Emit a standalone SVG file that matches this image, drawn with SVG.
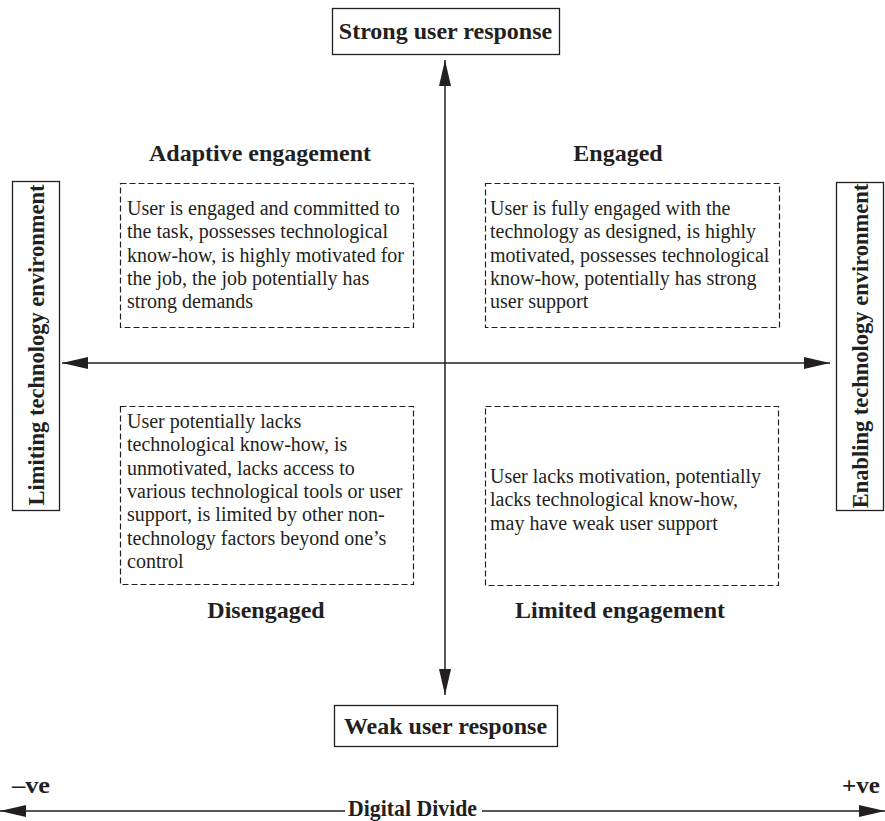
<svg xmlns="http://www.w3.org/2000/svg" width="885" height="821" viewBox="0 0 885 821">
<style>
.box{fill:#fff;stroke:#231f20;stroke-width:1.3}
.dash{fill:none;stroke:#231f20;stroke-width:1.2;stroke-dasharray:6 3}
.h{font-family:"Liberation Serif","Times New Roman",serif;font-weight:bold;font-size:24px;fill:#231f20}
.v{font-size:22.5px}
.t{font-family:"Liberation Serif","Times New Roman",serif;font-size:20px;fill:#231f20}
.ax{stroke:#231f20;stroke-width:1.5;fill:none}
</style>
<defs>
<marker id="ah" viewBox="0 0 26 12" refX="26" refY="6" markerWidth="26" markerHeight="12" markerUnits="userSpaceOnUse" orient="auto-start-reverse">
<path d="M0,0 L26,6 L0,12 Z" fill="#231f20"/>
</marker>
</defs>
<g id="connectors">
<line class="ax" x1="445" y1="60" x2="445" y2="695" marker-start="url(#ah)" marker-end="url(#ah)"/>
<line class="ax" x1="62" y1="363" x2="830" y2="363" marker-start="url(#ah)" marker-end="url(#ah)"/>
<line class="ax" x1="0" y1="811" x2="345" y2="811" marker-start="url(#ah)"/>
<line class="ax" x1="482" y1="811" x2="885" y2="811" marker-end="url(#ah)"/>
</g>
<g id="strong">
<rect class="box" x="332.5" y="8.5" width="227" height="46"/>
<text class="h" x="445.5" y="39" text-anchor="middle">Strong user response</text>
</g>
<g id="weak">
<rect class="box" x="334.5" y="705.5" width="223" height="41"/>
<text class="h" x="445.5" y="734" text-anchor="middle">Weak user response</text>
</g>
<g id="limiting">
<rect class="box" x="12.5" y="181.5" width="47" height="329"/>
<text class="h v" transform="translate(43.5,345) rotate(-90)" text-anchor="middle">Limiting technology environment</text>
</g>
<g id="enabling">
<rect class="box" x="836.5" y="182.5" width="47" height="328"/>
<text class="h v" transform="translate(867.5,346) rotate(-90)" text-anchor="middle">Enabling technology environment</text>
</g>
<g id="adaptive">
<text class="h" x="260" y="161" text-anchor="middle">Adaptive engagement</text>
<rect class="dash" x="120.5" y="183.5" width="293" height="144"/>
<text class="t"><tspan x="127" y="215">User is engaged and committed to</tspan><tspan x="127" y="238.3">the task, possesses technological</tspan><tspan x="127" y="261.6">know-how, is highly motivated for</tspan><tspan x="127" y="284.9">the job, the job potentially has</tspan><tspan x="127" y="308.2">strong demands</tspan></text>
</g>
<g id="engaged">
<text class="h" x="618" y="161" text-anchor="middle">Engaged</text>
<rect class="dash" x="485.5" y="183.5" width="294" height="144"/>
<text class="t"><tspan x="490" y="215">User is fully engaged with the</tspan><tspan x="490" y="238.3">technology as designed, is highly</tspan><tspan x="490" y="261.6">motivated, possesses technological</tspan><tspan x="490" y="284.9">know-how, potentially has strong</tspan><tspan x="490" y="308.2">user support</tspan></text>
</g>
<g id="disengaged">
<rect class="dash" x="120.5" y="406.5" width="293" height="178"/>
<text class="t"><tspan x="127" y="428">User potentially lacks</tspan><tspan x="127" y="451.3">technological know-how, is</tspan><tspan x="127" y="474.6">unmotivated, lacks access to</tspan><tspan x="127" y="497.9">various technological tools or user</tspan><tspan x="127" y="521.2">support, is limited by other non-</tspan><tspan x="127" y="544.5">technology factors beyond one’s</tspan><tspan x="127" y="567.8">control</tspan></text>
<text class="h" x="266" y="618" text-anchor="middle">Disengaged</text>
</g>
<g id="limited">
<rect class="dash" x="485.5" y="406.5" width="293" height="179"/>
<text class="t"><tspan x="490" y="483">User lacks motivation, potentially</tspan><tspan x="490" y="506.3">lacks technological know-how,</tspan><tspan x="490" y="529.6">may have weak user support</tspan></text>
<text class="h" x="620" y="618" text-anchor="middle">Limited engagement</text>
</g>
<g id="divide">
<text class="h" x="12" y="793" textLength="38" lengthAdjust="spacingAndGlyphs">–ve</text>
<text class="h" x="842" y="793" textLength="38" lengthAdjust="spacingAndGlyphs">+ve</text>
<text class="h" x="348" y="816" textLength="129" lengthAdjust="spacingAndGlyphs">Digital Divide</text>
</g>
</svg>
